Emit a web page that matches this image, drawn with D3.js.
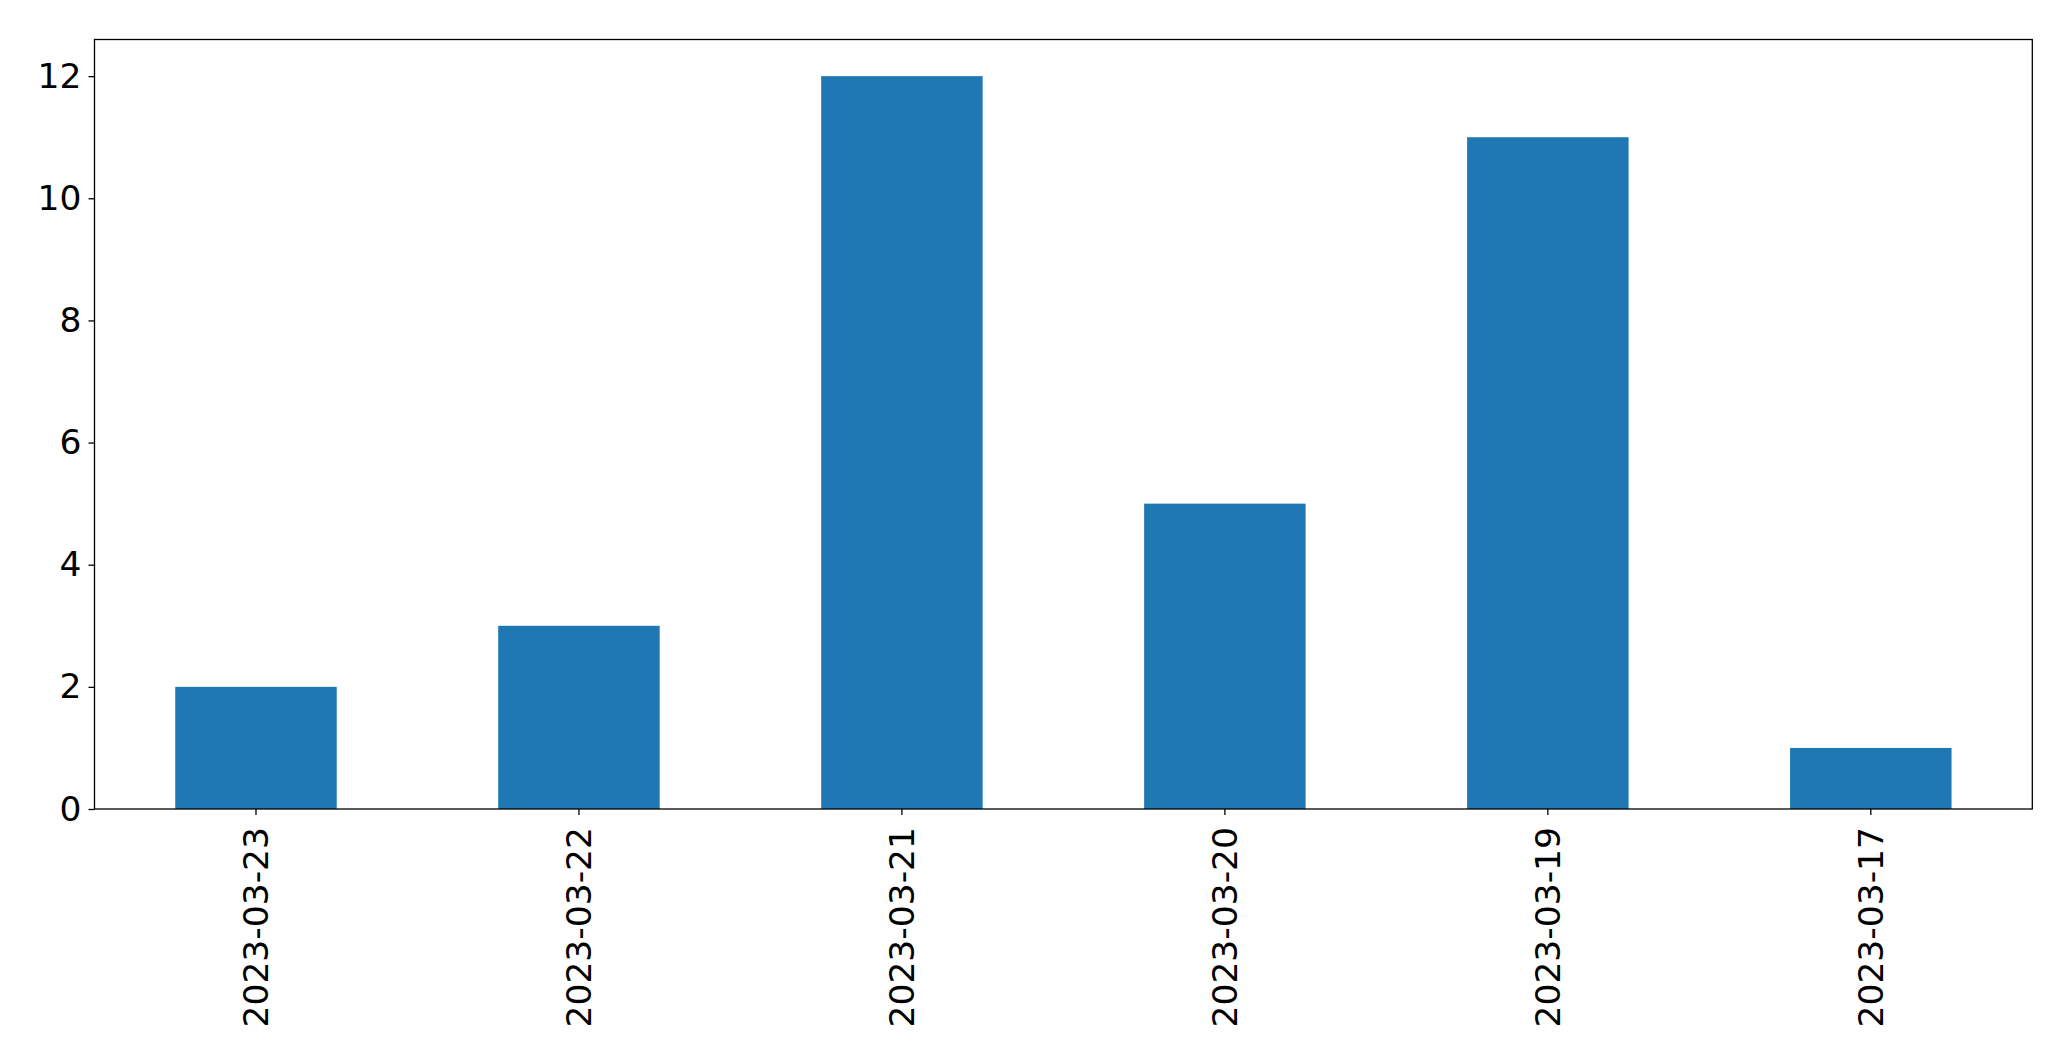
<!DOCTYPE html>
<html><head><meta charset="utf-8">
<script src="https://cdn.jsdelivr.net/npm/d3@7"></script>
<style>body{margin:0;background:#fff}</style>
</head><body>
<svg id="chart" width="2071" height="1061"></svg>
<script>
const categories = ["2023-03-23","2023-03-22","2023-03-21","2023-03-20","2023-03-19","2023-03-17"];
const values = [2,3,12,5,11,1];
const yTicks = [0,2,4,6,8,10,12];

const W = 2071, H = 1061;
const m = {left: 94.5, right: 2071-2032.3, top: 39.5, bottom: H-809};
const svg = d3.select("#chart");
const x = d3.scaleBand().domain(categories).range([m.left, W-m.right]).paddingInner(0.5).paddingOuter(0.25);
const y = d3.scaleLinear().domain([0, 12.6]).range([H-m.bottom, m.top]);
const font = "DejaVu Sans, sans-serif";
const fs = 34.5;

svg.append("g").selectAll("rect").data(values).join("rect")
  .attr("x", (d,i)=>x(categories[i]))
  .attr("width", x.bandwidth())
  .attr("y", d=>y(d))
  .attr("height", d=>y(0)-y(d))
  .attr("fill", "#1f77b4");

const ya = svg.append("g").attr("transform", `translate(${m.left},0)`)
  .call(d3.axisLeft(y).tickValues(yTicks).tickSize(6).tickPadding(7).tickFormat(d3.format("d")));
ya.select(".domain").remove();
ya.selectAll("text").attr("font-family", font).attr("font-size", fs).attr("fill","#000");
ya.selectAll("line").attr("stroke","#000").attr("stroke-width",1.3);

const xa = svg.append("g").attr("transform", `translate(0,${H-m.bottom})`)
  .call(d3.axisBottom(x).tickSize(6).tickPadding(0));
xa.select(".domain").remove();
xa.selectAll("line").attr("stroke","#000").attr("stroke-width",1.3);
xa.selectAll("text")
  .attr("font-family", font).attr("font-size", fs).attr("fill","#000")
  .attr("text-anchor","end").attr("dy",null).attr("y",0)
  .attr("dominant-baseline","central")
  .attr("transform","translate(0,18) rotate(-90)");

svg.append("rect").attr("x", m.left).attr("y", m.top)
  .attr("width", W-m.right-m.left).attr("height", H-m.bottom-m.top)
  .attr("fill","none").attr("stroke","#000").attr("stroke-width",1.3);
</script>
</body></html>
